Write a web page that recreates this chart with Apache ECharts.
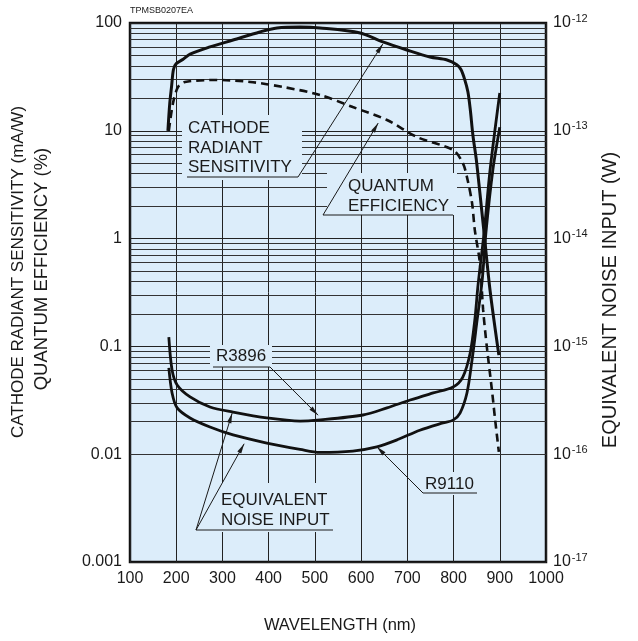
<!DOCTYPE html>
<html><head><meta charset="utf-8">
<script src="https://cdn.jsdelivr.net/npm/echarts@6/dist/echarts.min.js"></script>
<style>html,body{margin:0;padding:0;background:#fff}#c{width:638px;height:641px}</style>
</head><body><div id="c"></div>
<script>
// ---- data ----
const xTickLabels = ['100','200','300','400','500','600','700','800','900','1000'];
const leftTickLabels = ['0.001','0.01','0.1','1','10','100'];
const rightTickExponents = ['-17','-16','-15','-14','-13','-12'];

// Cathode radiant sensitivity (mA/W), left axis
const sensWl  = [182,186,190,194,200,215,230,273,323,381,418,468,511,598,647,699,749,786,807,816,824,831,836,842,849,855,866,879,898];
const sensVal = [10,18,26,37,42,46,51.5,60,69.5,82.6,89.9,91.8,90,80.8,66.7,56.2,48.4,45.4,41,37,30,23,16,9,5.5,3.2,1.13,0.33,0.083];

// Quantum efficiency (%), left axis
const qeWl  = [184,193,204,219,288,360,431,511,582,656,721,799,820,829,840,846,857,864,872,883,890,898];
const qeVal = [10,18,25.5,28.4,29.6,28.4,25.5,21.5,16.6,12.6,8.75,6.63,5.03,3.72,2.14,1.20,0.594,0.218,0.099,0.0394,0.0208,0.0105];

// Equivalent noise input (W), right axis
const r3896Wl  = [184,191,202,230,273,323,396,468,505,604,656,706,756,799,820,836,846,853,866,879,900];
const r3896Val = [1.22e-15,6.04e-16,4.39e-16,3.40e-16,2.74e-16,2.46e-16,2.17e-16,2.03e-16,2.07e-16,2.31e-16,2.69e-16,3.18e-16,3.70e-16,4.20e-16,5.20e-16,8.69e-16,1.76e-15,3.72e-15,1.13e-14,4.33e-14,2.24e-13];

const r9110Wl  = [184,191,202,230,273,323,396,468,511,582,634,678,727,777,799,814,829,840,851,862,870,885,900];
const r9110Val = [6.31e-16,3.70e-16,2.69e-16,2.17e-16,1.79e-16,1.51e-16,1.27e-16,1.11e-16,1.04e-16,1.07e-16,1.17e-16,1.36e-16,1.67e-16,1.95e-16,2.07e-16,2.41e-16,3.70e-16,7.48e-16,1.76e-15,4.13e-15,1.13e-14,4.33e-14,1.08e-13];

// minor log grid multipliers
const minorMult = [2,3,4,5,6,7,8,9];
const decadeExps = [-3,-2,-1,0,1];

// ---- build ----
const FONT = "'Liberation Sans', Arial, Helvetica, sans-serif";
const INK = '#1a1a1a';
const zip = (a,b) => a.map((v,i)=>[v,b[i]]);
const minorLines = [];
decadeExps.forEach(e => minorMult.forEach(m => minorLines.push({yAxis: m*Math.pow(10,e)})));

const chart = echarts.init(document.getElementById('c'));
const option = {
  animation: false,
  backgroundColor: '#ffffff',
  grid: {left:130, top:23, width:416, height:539, show:true, backgroundColor:'#dcedfa',
         borderColor:'#111', borderWidth:2.5, containLabel:false, outerBoundsMode:'none'},
  xAxis: {type:'value', min:100, max:1000, interval:100,
    axisLine:{show:false}, axisTick:{show:false},
    splitLine:{show:true, lineStyle:{color:'#222', width:1}},
    axisLabel:{fontSize:16, color:INK, fontFamily:FONT, margin:9,
      formatter: v => xTickLabels[Math.round((v-100)/100)]}},
  yAxis: [
    {type:'log', logBase:10, min:0.001, max:100, splitNumber:5,
     axisLine:{show:false}, axisTick:{show:false},
     splitLine:{show:true, lineStyle:{color:'#222', width:1}},
     axisLabel:{fontSize:16, color:INK, fontFamily:FONT, margin:8,
       formatter: v => leftTickLabels[Math.round(Math.log10(v))+3]}},
    {type:'log', logBase:10, min:1e-17, max:1e-12, splitNumber:5, position:'right',
     axisLine:{show:false}, axisTick:{show:false}, splitLine:{show:false},
     axisLabel:{color:INK, fontFamily:FONT, margin:7,
       formatter: v => '{b|10}{s|' + rightTickExponents[Math.round(Math.log10(v))+17] + '}',
       rich:{b:{fontSize:16, color:INK, fontFamily:FONT},
             s:{fontSize:11, color:INK, fontFamily:FONT, padding:[0,0,9,1]}}}}
  ],
  series: [
    {type:'line', name:'minor', yAxisIndex:0, data:[[100,1]], showSymbol:false, symbol:'none',
     lineStyle:{width:0}, z:1, silent:true,
     markLine:{silent:true, symbol:'none', label:{show:false},
       lineStyle:{color:'#333', width:1, type:'solid'}, data:minorLines, animation:false}},
    {type:'line', name:'sens', yAxisIndex:0, data:zip(sensWl,sensVal), showSymbol:false, symbol:'none',
     smooth:0.3, lineStyle:{color:'#111', width:3}, z:5},
    {type:'line', name:'qe', yAxisIndex:0, data:zip(qeWl,qeVal), showSymbol:false, symbol:'none',
     smooth:0.3, lineStyle:{color:'#111', width:2.6, type:[8,5]}, z:5},
    {type:'line', name:'R3896', yAxisIndex:1, data:zip(r3896Wl,r3896Val), showSymbol:false, symbol:'none',
     smooth:0.3, lineStyle:{color:'#111', width:2.8}, z:5},
    {type:'line', name:'R9110', yAxisIndex:1, data:zip(r9110Wl,r9110Val), showSymbol:false, symbol:'none',
     smooth:0.3, lineStyle:{color:'#111', width:2.8}, z:5}
  ]
};
chart.setOption(option);

// ---- annotations (arrow tips in data coordinates on the left axis) ----
function P(x,y){ return chart.convertToPixel({xAxisIndex:0, yAxisIndex:0}, [x,y]); }
const g = [];
const BG = '#dcedfa';
function rect(x1,y1,x2,y2){ g.push({type:'rect', z:90, shape:{x:x1,y:y1,width:x2-x1,height:y2-y1}, style:{fill:BG}}); }
function text(x,y,t){ g.push({type:'text', z:100, x:x, y:y, style:{text:t, fontSize:17, fontFamily:FONT, fill:INK, textVerticalAlign:'middle', textAlign:'left'}}); }
function line(x1,y1,x2,y2,w){ g.push({type:'line', z:100, shape:{x1,y1,x2,y2}, style:{stroke:INK, lineWidth:w||1}}); }
function arrow(s,t){
  line(s[0],s[1],t[0],t[1],1);
  const dx=t[0]-s[0], dy=t[1]-s[1], L=Math.hypot(dx,dy), ux=dx/L, uy=dy/L, nx=-uy, ny=ux;
  const AL=10, AW=4.5;
  g.push({type:'polygon', z:101, shape:{points:[t,[t[0]-ux*AL+nx*AW/2,t[1]-uy*AL+ny*AW/2],[t[0]-ux*AL-nx*AW/2,t[1]-uy*AL-ny*AW/2]]}, style:{fill:INK}});
}
const eniToLeft = v => v*1e14;

// Cathode radiant sensitivity
rect(182,115,302,180);
text(188,128,'CATHODE'); text(188,148,'RADIANT'); text(188,167,'SENSITIVITY');
line(187,177,298,177); arrow([298,177], P(647,64));
// Quantum efficiency
rect(327,173,457,215);
text(348,186,'QUANTUM'); text(348,206,'EFFICIENCY');
line(323,215,453,215); arrow([323,215], P(637,11.8));
// R3896
rect(210,345,272,367);
text(216,356,'R3896');
line(213,367,270,367); arrow([270,367], P(507, eniToLeft(2.3e-16)));
// R9110
rect(420,472,480,495);
text(425,484,'R9110');
line(423,493,477,493); arrow([423,493], P(634, eniToLeft(1.17e-16)));
// Equivalent noise input
rect(193,483,340,532);
text(221,500,'EQUIVALENT'); text(221,520,'NOISE INPUT');
line(196,530,333,530);
arrow([196,530], P(321, eniToLeft(2.4e-16)));
arrow([196,530], P(347, eniToLeft(1.25e-16)));

// titles
g.push({type:'text', z:100, x:130, y:11, style:{text:'TPMSB0207EA', fontSize:9, fontFamily:FONT, fill:INK, textAlign:'left', textVerticalAlign:'middle'}});
g.push({type:'text', z:100, x:340, y:625, style:{text:'WAVELENGTH (nm)', fontSize:16.5, fontFamily:FONT, fill:INK, textAlign:'center', textVerticalAlign:'middle'}});
g.push({type:'text', z:100, x:18, y:272, rotation:Math.PI/2, style:{text:'CATHODE RADIANT SENSITIVITY (mA/W)', fontSize:17, fontFamily:FONT, fill:INK, textAlign:'center', textVerticalAlign:'middle'}});
g.push({type:'text', z:100, x:42, y:269, rotation:Math.PI/2, style:{text:'QUANTUM EFFICIENCY (%)', fontSize:18.5, fontFamily:FONT, fill:INK, textAlign:'center', textVerticalAlign:'middle'}});
g.push({type:'text', z:100, x:610, y:300, rotation:Math.PI/2, style:{text:'EQUIVALENT NOISE INPUT (W)', fontSize:20, fontFamily:FONT, fill:INK, textAlign:'center', textVerticalAlign:'middle'}});

chart.setOption({graphic: g});
</script></body></html>
